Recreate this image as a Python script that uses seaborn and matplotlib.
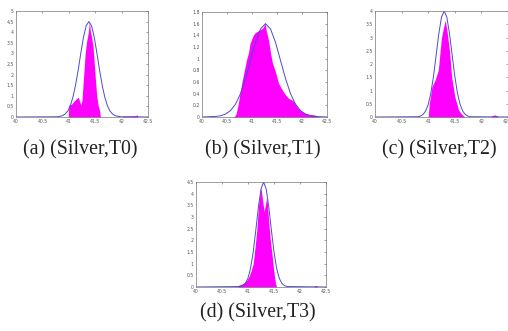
# -*- coding: utf-8 -*-
"""
Four small MATLAB-like panels: magenta histogram area of the (Silver, Tn)
measurements with the fitted curve drawn on top in blue.
"""

import matplotlib
matplotlib.use('Agg')
import matplotlib.pyplot as plt
import seaborn as sns

''' Values read off the reference figure '''

panel_labels = ['(a) (Silver,T0)', '(b) (Silver,T1)', '(c) (Silver,T2)', '(d) (Silver,T3)']
x_ticks = [40, 40.5, 41, 41.5, 42, 42.5]
x_tick_labels = ['40', '40.5', '41', '41.5', '42', '42.5']

# y axis of each panel: (top, step)
y_t0 = (5, 0.5)
y_t1 = (1.8, 0.2)
y_t2 = (4, 0.5)
y_t3 = (4.5, 0.5)

# magenta areas (histogram outline)
hist_x_t0 = [40.99, 41.00, 41.05, 41.10, 41.15, 41.18, 41.21, 41.23, 41.25, 41.28, 41.31, 41.34,
             41.37, 41.39, 41.41, 41.43, 41.46, 41.50, 41.53, 41.56, 41.58, 41.60,
             42.02, 42.03, 42.12, 42.20, 42.26, 42.30, 42.31]
hist_y_t0 = [0, 0.55, 0.6, 0.75, 0.88, 0.93, 0.7, 0.57, 0.8, 1.9, 3.0, 3.6,
             4.0, 4.5, 4.0, 3.8, 3.3, 1.9, 0.96, 0.5, 0.33, 0,
             0, 0.04, 0.05, 0.05, 0.07, 0.09, 0]

hist_x_t1 = [40.64, 40.68, 40.72, 40.76, 40.80, 40.85, 40.89, 40.93, 40.96, 41.00, 41.03, 41.06,
             41.09, 41.13, 41.17, 41.21, 41.24, 41.26, 41.28, 41.33, 41.37, 41.41, 41.46, 41.53,
             41.58, 41.63, 41.68, 41.73, 41.78, 41.83, 41.88, 41.93, 41.98, 42.05, 42.12, 42.20,
             42.27, 42.30, 42.32]
hist_y_t1 = [0, 0.05, 0.2, 0.41, 0.6, 0.81, 0.98, 1.1, 1.26, 1.35, 1.41, 1.44,
             1.46, 1.48, 1.5, 1.52, 1.56, 1.63, 1.5, 1.32, 1.1, 0.92, 0.8, 0.58,
             0.5, 0.43, 0.37, 0.32, 0.3, 0.27, 0.2, 0.14, 0.1, 0.07, 0.05, 0.04,
             0.03, 0.02, 0]

hist_x_t2 = [41.00, 41.02, 41.07, 41.13, 41.19, 41.22, 41.25, 41.28, 41.32, 41.35, 41.40, 41.44,
             41.50, 41.57, 41.63, 41.69, 42.18, 42.20, 42.25, 42.30, 42.32]
hist_y_t2 = [0, 0.5, 1.14, 1.4, 1.77, 2.4, 3.0, 3.3, 3.65, 3.3, 2.5, 1.52,
             0.77, 0.27, 0.1, 0, 0, 0.05, 0.08, 0.04, 0]

hist_x_t3 = [40.80, 40.82, 40.88, 40.94, 40.98, 41.02, 41.06, 41.10, 41.14, 41.17, 41.20, 41.23,
             41.25, 41.27, 41.31, 41.34, 41.36, 41.38, 41.40, 41.43, 41.46, 41.49, 41.51, 41.53,
             41.55, 42.26, 42.28, 42.32, 42.34]
hist_y_t3 = [0, 0.08, 0.12, 0.2, 0.3, 0.45, 0.7, 1.0, 1.8, 2.45, 3.45, 4.0,
             4.25, 3.9, 3.23, 3.6, 3.87, 3.4, 2.73, 2.0, 1.44, 0.8, 0.44, 0.15,
             0, 0, 0.05, 0.06, 0]

# blue fitted curves
fit_x_t0 = [40.0, 40.78, 40.88, 40.93, 40.98, 41.03, 41.08, 41.13, 41.18, 41.23, 41.28, 41.33,
            41.38, 41.43, 41.48, 41.53, 41.58, 41.63, 41.68, 41.73, 41.78, 41.83, 41.88, 41.98, 42.5]
fit_y_t0 = [0, 0.01, 0.06, 0.14, 0.28, 0.54, 0.95, 1.53, 2.25, 3.05, 3.79, 4.31,
            4.5, 4.31, 3.79, 3.05, 2.25, 1.53, 0.95, 0.54, 0.28, 0.14, 0.06, 0.01, 0]

fit_x_t1 = [40.0, 40.27, 40.37, 40.47, 40.57, 40.67, 40.77, 40.87, 40.97, 41.07, 41.17, 41.27,
            41.37, 41.47, 41.57, 41.67, 41.77, 41.87, 41.97, 42.07, 42.17, 42.27, 42.5]
fit_y_t1 = [0, 0.01, 0.02, 0.05, 0.11, 0.22, 0.40, 0.66, 0.97, 1.28, 1.51, 1.6,
            1.51, 1.28, 0.97, 0.66, 0.40, 0.22, 0.11, 0.05, 0.02, 0.01, 0]

fit_x_t2 = [40.0, 40.80, 40.85, 40.90, 40.95, 41.00, 41.05, 41.10, 41.15, 41.20, 41.25, 41.30,
            41.35, 41.40, 41.45, 41.50, 41.55, 41.60, 41.65, 41.70, 41.75, 41.80, 42.5]
fit_y_t2 = [0, 0.01, 0.03, 0.09, 0.22, 0.47, 0.90, 1.54, 2.34, 3.15, 3.77, 4.0,
            3.77, 3.15, 2.34, 1.54, 0.90, 0.47, 0.22, 0.09, 0.03, 0.01, 0]

fit_x_t3 = [40.0, 40.85, 40.90, 40.95, 41.00, 41.05, 41.10, 41.15, 41.20, 41.25, 41.30, 41.35,
            41.40, 41.45, 41.50, 41.55, 41.60, 41.65, 41.70, 41.75, 42.5]
fit_y_t3 = [0, 0.02, 0.06, 0.16, 0.38, 0.81, 1.5, 2.43, 3.42, 4.2, 4.5, 4.2,
            3.42, 2.43, 1.5, 0.81, 0.38, 0.16, 0.06, 0.02, 0]


def draw_panel(ax, hist_x, hist_y, fit_x, fit_y, y_axis):

    """
    Draws one panel: filled magenta histogram and blue fitted line.

    :param ax: matplotlib axes
    :param y_axis: tuple (top, step) of the y axis
    """

    top, step = y_axis
    ax.fill_between(hist_x, hist_y, 0, color='#ff00ff', linewidth=0)
    sns.lineplot(x=fit_x, y=fit_y, ax=ax, color='#4a4ad0', linewidth=0.7, sort=False)
    ax.set_xlim(40, 42.5)
    ax.set_ylim(0, top)
    ax.set_xticks(x_ticks)
    ax.set_xticklabels(x_tick_labels)
    n = int(round(top / step))
    y_ticks = [round(i * step, 2) for i in range(n + 1)]
    ax.set_yticks(y_ticks)
    ax.set_yticklabels(['%g' % t for t in y_ticks])
    ax.tick_params(direction='in', length=1.5, width=0.4, labelsize=3.3, pad=1.5,
                   colors='#555555', top=True, right=True)
    for sp in ax.spines.values():
        sp.set_visible(True)
        sp.set_linewidth(0.5)
        sp.set_color('#777777')
    ax.set_xlabel('')
    ax.set_ylabel('')


sns.set_style('white')
fig = plt.figure(figsize=(5.08, 3.31), dpi=100)

W, H = 508.0, 331.0
# pixel boxes (left, top, right, bottom)
boxes = [(16, 11, 148, 117), (202, 12, 327, 117), (375, 11, 508, 117), (196, 182, 326, 287)]
hists = [(hist_x_t0, hist_y_t0), (hist_x_t1, hist_y_t1), (hist_x_t2, hist_y_t2), (hist_x_t3, hist_y_t3)]
fits = [(fit_x_t0, fit_y_t0), (fit_x_t1, fit_y_t1), (fit_x_t2, fit_y_t2), (fit_x_t3, fit_y_t3)]
y_axes = [y_t0, y_t1, y_t2, y_t3]
caption_pos = [(80, 150), (263, 150), (439, 150), (258, 313)]

for i in range(4):
    l, t, r, b = boxes[i]
    ax = fig.add_axes([l / W, 1 - b / H, (r - l) / W, (b - t) / H])
    draw_panel(ax, hists[i][0], hists[i][1], fits[i][0], fits[i][1], y_axes[i])
    cx, cy = caption_pos[i]
    fig.text(cx / W, 1 - cy / H, panel_labels[i], ha='center', va='center',
             fontsize=14.3, family='Liberation Serif', color='#222222')

fig.savefig('out.png', dpi=100)
